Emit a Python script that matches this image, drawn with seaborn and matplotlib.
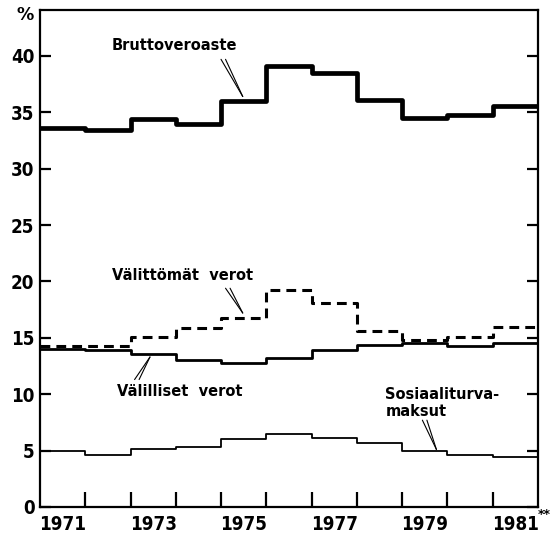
import pandas as pd
import matplotlib.pyplot as plt
import seaborn as sns

# vuodet ja sarjat (% BKT:sta), luettu kuvasta
years = [1971, 1972, 1973, 1974, 1975, 1976, 1977, 1978, 1979, 1980, 1981]
brutto = [33.6, 33.4, 34.4, 34.0, 36.0, 39.1, 38.5, 36.1, 34.5, 34.8, 35.6]
valittomat = [14.3, 14.3, 15.1, 15.9, 16.8, 19.2, 18.1, 15.6, 14.8, 15.1, 16.0]
valilliset = [14.0, 13.9, 13.6, 13.0, 12.8, 13.2, 13.9, 14.4, 14.5, 14.3, 14.5]
sosiaali = [5.0, 4.6, 5.1, 5.3, 6.0, 6.5, 6.1, 5.7, 5.0, 4.6, 4.4]
yticks = [0, 5, 10, 15, 20, 25, 30, 35, 40]
xlabels = ['1971', '1973', '1975', '1977', '1979', '1981']

sns.set_theme(style='ticks')
plt.rcParams['font.family'] = ['DejaVu Sans']
plt.rcParams['font.weight'] = 'bold'
plt.rcParams['text.color'] = 'black'
plt.rcParams['xtick.color'] = 'black'
plt.rcParams['ytick.color'] = 'black'
plt.rcParams['xtick.labelcolor'] = 'black'
plt.rcParams['ytick.labelcolor'] = 'black'


def steps(vals):
    # viimeinen vuosi jatkuu vuoden loppuun
    return pd.DataFrame({'v': years + [years[-1] + 1], 'y': vals + [vals[-1]]})


fig = plt.figure(figsize=(5.51, 5.34), dpi=100)
ax = fig.add_axes([0.0726, 0.0506, 0.9034, 0.9304])

sns.lineplot(data=steps(brutto), x='v', y='y', drawstyle='steps-post', color='black', lw=3.4, ax=ax)
sns.lineplot(data=steps(valittomat), x='v', y='y', drawstyle='steps-post', color='black', lw=2.2,
             linestyle=(0, (3.2, 2.0)), ax=ax)
sns.lineplot(data=steps(valilliset), x='v', y='y', drawstyle='steps-post', color='black', lw=2.0, ax=ax)
sns.lineplot(data=steps(sosiaali), x='v', y='y', drawstyle='steps-post', color='black', lw=1.3, ax=ax)

ax.set_xlim(years[0], years[-1] + 1)
ax.set_ylim(0, 44.06)
ax.set_xlabel(None)
ax.set_ylabel(None)

for s in ax.spines.values():
    s.set_linewidth(1.6)
    s.set_color('black')

tick_font = dict(fontsize=13.5, fontweight='bold', fontstretch='condensed')
ax.set_yticks(yticks)
ax.set_yticklabels([str(t) for t in yticks], **tick_font)
ax.tick_params(axis='y', which='major', direction='in', length=8, width=1.6, pad=4,
               left=True, right=True)
ax.set_xticks(years[1:])
ax.set_xticklabels([])
ax.tick_params(axis='x', which='major', direction='in', length=11, width=1.6, bottom=True)
ax.set_xticks([y + 0.5 for y in years[::2]], minor=True)
ax.set_xticklabels(xlabels, minor=True, **tick_font)
ax.tick_params(axis='x', which='minor', length=0, pad=6)

ax.text(1982.15, -0.7, '**', fontsize=9, fontweight='bold', ha='center', va='center', clip_on=False)
ax.text(1970.67, 43.6, '%', fontsize=12.5, fontweight='bold', ha='center', va='center', clip_on=False)

lab = dict(fontsize=10.5, fontweight='bold', color='black')
arr = dict(arrowstyle='-', color='black', lw=0.8, shrinkA=0, shrinkB=0)


def pointer(x0, y0, x1, y1):
    ax.annotate('', xy=(x1, y1), xytext=(x0 - 0.05, y0), arrowprops=arr)
    ax.annotate('', xy=(x1, y1), xytext=(x0 + 0.05, y0), arrowprops=arr)


ax.text(1973.98, 40.9, 'Bruttoveroaste', ha='center', va='center', **lab)
pointer(1975.05, 39.7, 1975.48, 36.4)
ax.text(1974.16, 20.5, 'Välittömät  verot', ha='center', va='center', **lab)
pointer(1975.15, 19.4, 1975.48, 17.2)
ax.text(1974.09, 10.2, 'Välilliset  verot', ha='center', va='center', **lab)
pointer(1973.14, 11.3, 1973.43, 13.3)
ax.text(1978.63, 10.6, 'Sosiaaliturva-\nmaksut', ha='left', va='top', linespacing=1.1, **lab)
pointer(1979.5, 7.7, 1979.76, 5.1)

plt.savefig('out.png', dpi=100)
